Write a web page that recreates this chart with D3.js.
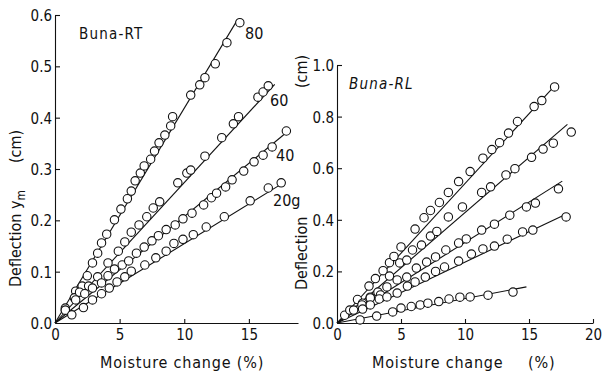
<!DOCTYPE html>
<html><head><meta charset="utf-8">
<script src="https://cdn.jsdelivr.net/npm/d3@7"></script>
<style>
html,body{margin:0;padding:0;background:#fff;}
svg{display:block;font-family:"DejaVu Sans Condensed","DejaVu Sans",sans-serif;}
</style></head>
<body><svg id="c" width="604" height="376"></svg>
<script>
// ---- Data ----
// Left panel: Buna-RT, moisture change (%) vs deflection y_m (cm)
const rt80 = [[0.8,0.029],[1.6,0.062],[2.1,0.072],[2.5,0.092],[2.9,0.117],[3.3,0.136],[3.6,0.156],[4.0,0.173],[4.6,0.201],[5.1,0.222],[5.6,0.242],[5.9,0.257],[6.2,0.277],[6.6,0.292],[6.9,0.306],[7.4,0.319],[7.7,0.335],[8.05,0.351],[8.5,0.366],[8.95,0.384],[9.1,0.402],[10.5,0.444],[11.2,0.464],[11.6,0.478],[12.4,0.505],[13.3,0.546],[14.3,0.585]];
const rt60 = [[0.8,0.025],[1.5,0.049],[1.9,0.060],[2.6,0.072],[3.3,0.090],[4.1,0.117],[4.9,0.140],[5.4,0.158],[5.9,0.177],[6.5,0.191],[7.1,0.207],[7.6,0.224],[8.1,0.236],[9.5,0.273],[10.2,0.292],[10.5,0.298],[11.6,0.325],[12.9,0.361],[13.8,0.388],[14.2,0.402],[15.7,0.440],[16.1,0.450],[16.5,0.462]];
const rt40 = [[0.8,0.025],[1.6,0.045],[2.3,0.057],[2.9,0.068],[3.6,0.078],[4.1,0.092],[4.6,0.105],[5.2,0.113],[5.7,0.121],[6.3,0.136],[6.9,0.148],[7.5,0.160],[8.0,0.170],[8.6,0.182],[9.3,0.191],[9.9,0.203],[10.6,0.214],[11.5,0.230],[12.1,0.244],[12.5,0.253],[13.2,0.265],[13.7,0.279],[14.6,0.296],[15.4,0.314],[16.1,0.327],[16.8,0.343],[17.9,0.374]];
const rt20 = [[1.3,0.016],[2.2,0.030],[2.9,0.045],[3.6,0.057],[4.2,0.068],[4.8,0.080],[5.4,0.090],[5.9,0.101],[6.95,0.113],[7.8,0.127],[8.6,0.140],[9.2,0.155],[9.9,0.163],[10.7,0.172],[11.7,0.187],[13.1,0.207],[15.1,0.238],[16.5,0.263],[17.5,0.273]];
const rtFits = [[[0,0],[14.1,0.59]],[[0,0],[17.0,0.465]],[[0,0],[18.0,0.373]],[[0,0],[17.6,0.272]]];
const rtLabels = ["80","60","40","20g"];

// Right panel: Buna-RL
const rl1 = [[0.6,0.030],[1.6,0.091],[2.5,0.143],[3.0,0.172],[3.6,0.203],[4.1,0.234],[4.45,0.258],[5.0,0.295],[6.1,0.364],[6.8,0.408],[7.3,0.436],[8.0,0.467],[8.7,0.506],[9.5,0.548],[10.4,0.587],[11.4,0.639],[12.1,0.672],[12.7,0.699],[13.4,0.736],[14.1,0.781],[15.4,0.839],[16.0,0.862],[17.0,0.915]];
const rl2 = [[1.0,0.050],[2.0,0.077],[2.6,0.100],[3.2,0.120],[4.1,0.182],[4.9,0.233],[5.45,0.244],[5.9,0.283],[6.6,0.302],[7.3,0.337],[7.8,0.355],[8.7,0.411],[9.8,0.450],[11.3,0.506],[12.0,0.528],[13.2,0.574],[13.9,0.598],[15.2,0.642],[16.1,0.674],[16.9,0.697],[18.3,0.740]];
const rl3 = [[1.3,0.050],[1.95,0.070],[2.6,0.097],[3.4,0.109],[3.9,0.140],[4.7,0.167],[5.45,0.178],[6.2,0.213],[7.0,0.236],[7.7,0.256],[8.5,0.283],[9.5,0.310],[10.1,0.326],[11.3,0.360],[12.3,0.383],[13.5,0.418],[14.8,0.450],[15.5,0.465],[17.3,0.520]];
const rl4 = [[2.0,0.054],[2.6,0.070],[3.3,0.093],[3.9,0.101],[4.7,0.116],[5.5,0.143],[6.1,0.159],[6.9,0.178],[7.7,0.200],[8.4,0.217],[9.5,0.240],[10.5,0.267],[11.4,0.287],[12.3,0.298],[13.3,0.325],[14.5,0.353],[15.3,0.360],[17.9,0.411]];
const rl5 = [[1.8,0.012],[3.1,0.027],[4.35,0.043],[5.0,0.058],[5.8,0.064],[6.5,0.070],[7.1,0.077],[7.95,0.083],[8.75,0.093],[9.6,0.100],[10.4,0.101],[11.8,0.108],[13.75,0.120]];
const rlFits = [[[0,0],[17.2,0.93]],[[0,0],[18.0,0.77]],[[0,0],[17.6,0.55]],[[0,0],[17.8,0.42]],[[0,0],[14.8,0.14]]];

const xTicksL = [0,5,10,15], yTicksL = [0,0.1,0.2,0.3,0.4,0.5,0.6];
const xTicksR = [0,5,10,15,20], yTicksR = [0,0.2,0.4,0.6,0.8,1.0];

// ---- Drawing ----
const svg = d3.select("#c");
const FS = 15;

function panel(o){
  const g = svg.append("g");
  const x = d3.scaleLinear().domain(o.xDom).range(o.xRange);
  const y = d3.scaleLinear().domain(o.yDom).range(o.yRange);
  const xa = d3.axisBottom(x).tickValues(o.xTicks).tickFormat(d3.format("d"))
      .tickSizeInner(-4).tickSizeOuter(0).tickPadding(6);
  const ya = d3.axisLeft(y).tickValues(o.yTicks).tickFormat(d3.format(".1f"))
      .tickSizeInner(-5).tickSizeOuter(0).tickPadding(3);
  const gx = g.append("g").attr("transform",`translate(0,${o.yRange[0]})`).call(xa);
  const gy = g.append("g").attr("transform",`translate(${o.xRange[0]},0)`).call(ya);
  [gx,gy].forEach(a=>{
    a.selectAll("text").attr("font-size",FS).attr("fill","#111").attr("font-family",null);
    a.selectAll("path,line").attr("stroke","#111").attr("stroke-width",1.1);
    a.attr("font-family",null).attr("font-size",null);
  });
  gx.selectAll(".tick").filter(d=>d===0).select("line").remove();
  gy.selectAll(".tick").filter(d=>d===0).select("line").remove();
  gy.selectAll("text").attr("dy","0.36em");
  const line = d3.line().x(d=>x(d[0])).y(d=>y(d[1]));
  g.selectAll("path.fit").data(o.fits).join("path").attr("class","fit")
    .attr("d",line).attr("fill","none").attr("stroke","#111").attr("stroke-width",1.1);
  o.series.forEach(s=>{
    g.append("g").selectAll("circle").data(s).join("circle")
      .attr("cx",d=>x(d[0])).attr("cy",d=>y(d[1])).attr("r",4.2)
      .attr("fill","#fff").attr("stroke","#111").attr("stroke-width",1.1);
  });
  return {g,x,y};
}

const L = panel({xDom:[0,18.8],xRange:[55,298],yDom:[0,0.6],yRange:[323,15],
  xTicks:xTicksL,yTicks:yTicksL,fits:rtFits,series:[rt80,rt60,rt40,rt20]});
const R = panel({xDom:[0,20],xRange:[337,593],yDom:[0,1.0],yRange:[323,65],
  xTicks:xTicksR,yTicks:yTicksR,fits:rlFits,series:[rl1,rl2,rl3,rl4,rl5]});

function txt(x,y,s,opts={}){
  const t = svg.append("text").attr("x",x).attr("y",y).text(s)
    .attr("font-size",opts.fs||FS).attr("fill","#111");
  if(opts.anchor) t.attr("text-anchor",opts.anchor);
  if(opts.italic) t.attr("font-style","italic");
  if(opts.ls) t.attr("letter-spacing",opts.ls);
  return t;
}
// series labels
const labPos = [[245,39],[270,106],[276,161],[273,206]];
rtLabels.forEach((s,i)=>txt(labPos[i][0],labPos[i][1],s,{fs:16}));
txt(79,39,"Buna-RT",{fs:15,ls:1.2});
txt(349,89,"Buna-RL",{fs:15,ls:1.2,italic:true});

// x labels
txt(182,368,"Moisture change (%)",{fs:16,anchor:"middle",ls:0.8});
txt(372,368,"Moisture change",{fs:16,ls:0.8});
txt(528,368,"(%)",{fs:16,ls:0.8});

// y labels (rotated)
function vtxt(x,y,s,fs){
  return svg.append("text").attr("transform",`translate(${x},${y}) rotate(-90)`)
    .attr("font-size",fs).attr("fill","#111").text(s);
}
vtxt(21,287,"Deflection",16);
const ym = svg.append("text").attr("transform","translate(21,209) rotate(-90)")
  .attr("font-size",16).attr("fill","#111");
ym.append("tspan").text("y");
ym.append("tspan").attr("dy",4).attr("font-size",12).text("m");
vtxt(21,163,"(cm)",16);
vtxt(307,290,"Deflection",16);
vtxt(307,88,"(cm)",16);
</script></body></html>
